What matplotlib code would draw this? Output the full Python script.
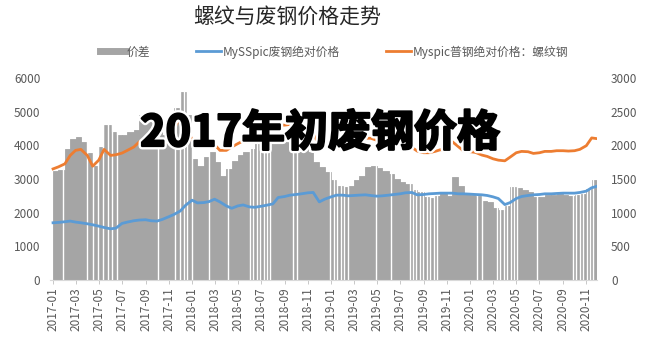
import numpy as np
import pandas as pd
import matplotlib
matplotlib.use('Agg')
import matplotlib.pyplot as plt
import matplotlib.dates as mdates
import matplotlib.patheffects as pe
from matplotlib.lines import Line2D

plt.rcParams['font.family'] = ['Noto Sans CJK SC', 'DejaVu Sans']

# semi-monthly sampling (1st and 15th of each month)
dates = list(pd.date_range('2017-01-01', '2020-11-15', freq='SMS')) + [pd.Timestamp('2020-11-28')]

# 价差 (right axis)
spread = [1620, 1640, 1950, 2100, 2130, 2050, 1880, 1700, 1980, 2300, 2200, 2150,
          2150, 2200, 2230, 2450, 2420, 2350, 2250, 2150, 2300, 2550, 2790, 2450,
          1800, 1700, 1830, 1900, 1750, 1550, 1650, 1760, 1850, 1900, 1950, 2030,
          2030, 2050, 2120, 2150, 2120, 2100, 2080, 2050, 1900, 1750, 1680, 1600,
          1480, 1400, 1380, 1400, 1480, 1550, 1680, 1700, 1660, 1620, 1580, 1500,
          1450, 1420, 1340, 1300, 1240, 1220, 1250, 1290, 1250, 1530, 1400, 1270,
          1260, 1250, 1180, 1160, 1070, 1040, 1100, 1380, 1360, 1340, 1300, 1230,
          1240, 1260, 1260, 1270, 1260, 1250, 1260, 1280, 1350, 1480, 1420]

# MySSpic废钢绝对价格 (left axis)
scrap = [1700, 1710, 1730, 1750, 1720, 1700, 1670, 1640, 1600, 1560, 1520, 1540,
         1680, 1720, 1760, 1780, 1790, 1760, 1750, 1800, 1880, 1950, 2050, 2220,
         2370, 2290, 2300, 2330, 2400, 2320, 2200, 2130, 2200, 2230, 2170, 2160,
         2190, 2220, 2260, 2450, 2480, 2520, 2540, 2560, 2590, 2600, 2320, 2400,
         2470, 2520, 2520, 2500, 2510, 2520, 2530, 2510, 2490, 2500, 2520, 2540,
         2560, 2590, 2600, 2530, 2540, 2560, 2570, 2580, 2580, 2580, 2560, 2560,
         2550, 2540, 2530, 2510, 2470, 2420, 2240, 2300, 2420, 2480, 2510, 2530,
         2540, 2560, 2560, 2570, 2580, 2580, 2580, 2600, 2640, 2740, 2780]

# Myspic普钢绝对价格：螺纹钢 (left axis)
rebar = [3300, 3360, 3450, 3700, 3850, 3880, 3700, 3380, 3560, 3880, 3700, 3720,
         3770, 3850, 3950, 4100, 4190, 4150, 4000, 3950, 4180, 4500, 4850, 4650,
         4150, 4000, 4100, 4200, 4020, 3850, 3850, 3950, 4050, 4130, 4120, 4180,
         4220, 4270, 4380, 4600, 4600, 4620, 4620, 4610, 4490, 4350, 4000, 4000,
         3950, 3920, 3900, 3900, 3990, 4070, 4210, 4210, 4150, 4120, 4100, 4040,
         4010, 4010, 3940, 3830, 3780, 3780, 3820, 3870, 3830, 4110, 3960, 3830,
         3810, 3790, 3710, 3670, 3600, 3560, 3540, 3650, 3780, 3820, 3810, 3760,
         3780, 3820, 3820, 3840, 3840, 3830, 3840, 3880, 3990, 4220, 4200]

# days without quotes (white stripes in the bars)
no_quote = ['2017-01-27', '2017-03-31', '2017-04-16', '2017-04-29', '2017-05-12',
            '2017-05-25', '2017-06-05', '2017-06-18', '2017-10-04', '2017-11-17',
            '2017-11-30', '2017-12-11', '2017-12-19', '2018-01-01', '2018-02-14',
            '2018-04-05', '2018-06-02', '2018-06-11', '2018-06-20', '2018-06-29',
            '2018-07-08', '2018-07-17', '2018-07-25', '2018-09-23', '2018-10-03',
            '2018-12-29', '2019-01-08', '2019-01-17', '2019-01-26', '2019-02-05',
            '2019-02-14', '2019-04-30', '2019-06-06', '2019-07-26', '2019-08-04',
            '2019-08-13', '2019-08-22', '2019-08-31', '2019-09-09', '2019-09-18',
            '2019-09-27', '2019-10-05', '2020-01-20', '2020-01-31', '2020-03-11',
            '2020-03-20', '2020-03-29', '2020-04-07', '2020-04-16', '2020-04-25',
            '2020-05-03', '2020-06-25', '2020-09-27', '2020-10-06', '2020-10-15',
            '2020-10-24', '2020-11-02', '2020-11-10', '2020-11-18']

labels = ['价差', 'MySSpic废钢绝对价格', 'Myspic普钢绝对价格：螺纹钢']
c_bar, c_blue, c_orange = '#a5a5a5', '#5b9bd5', '#ed7d31'
tick_c = '#595959'

fig = plt.figure(figsize=(6.48, 3.37), dpi=100)
ax = fig.add_axes([50/648, 57/337, 547/648, 202/337])
ax2 = ax.twinx()
ax.set_zorder(ax2.get_zorder() + 1)
ax.patch.set_visible(False)

x = mdates.date2num(dates)
w = np.diff(x, append=x[-1] + 2)
ax2.bar(x, spread, width=w, align='edge', color=c_bar, edgecolor=c_bar, linewidth=0.6)
ax2.vlines(mdates.date2num(pd.to_datetime(no_quote)), 0, 3000, color='white', lw=1.0)

ax.plot(x, scrap, color=c_blue, lw=2.0)
ax.plot(x, rebar, color=c_orange, lw=2.0)

ax.set_ylim(0, 6000)
ax2.set_ylim(0, 3000)
ax.set_yticks(range(0, 6001, 1000))
ax2.set_yticks(range(0, 3001, 500))
ax.set_xlim(mdates.date2num(pd.Timestamp('2016-12-24')), mdates.date2num(pd.Timestamp('2020-11-29')))

ax.xaxis.set_major_locator(mdates.MonthLocator(bymonth=(1, 3, 5, 7, 9, 11)))
ax.xaxis.set_major_formatter(mdates.DateFormatter('%Y-%m'))
ax.tick_params(axis='x', labelrotation=90, labelsize=8.5, colors=tick_c, length=3, width=0.6, color='#bfbfbf', pad=2)
ax.tick_params(axis='y', labelsize=8.5, colors=tick_c, length=0, pad=7)
ax2.tick_params(axis='y', labelsize=8.5, colors=tick_c, length=0, pad=10)

for a in (ax, ax2):
    for s in a.spines.values():
        s.set_visible(False)
ax.spines['bottom'].set_visible(True)
ax.spines['bottom'].set_color('#d9d9d9')

handles = [Line2D([], [], color=c_bar, lw=5),
           Line2D([], [], color=c_blue, lw=2.0),
           Line2D([], [], color=c_orange, lw=2.0)]
fig.legend(handles, labels, loc='center', bbox_to_anchor=(334/648, 1 - 52/337), ncol=3,
           frameon=False, fontsize=8.5, columnspacing=3.9, handlelength=2.1, handletextpad=0.15,
           labelcolor=tick_c)

fig.text(287/648, 1 - 18/337, '螺纹与废钢价格走势', fontsize=15, ha='center', va='center', color='#262626')
fig.text(320/648, 1 - 133/337, '2017年初废钢价格', fontsize=31, fontweight='bold', ha='center', va='center',
         color='black', path_effects=[pe.Stroke(linewidth=5, foreground='white'),
                                      pe.Stroke(linewidth=1.6, foreground='black'), pe.Normal()])

fig.savefig('out.png', dpi=100)
